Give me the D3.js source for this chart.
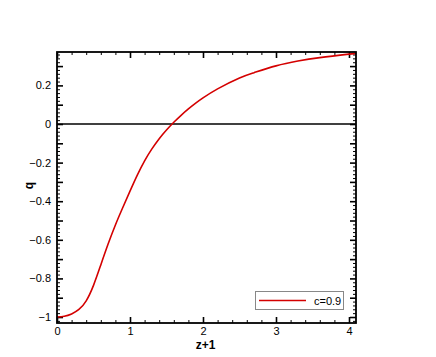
<!DOCTYPE html>
<html>
<head>
<meta charset="utf-8">
<script src="https://cdn.jsdelivr.net/npm/d3@7"></script>
<style>
  html, body { margin: 0; padding: 0; background: #fff; }
  svg { display: block; }
  text { font-family: "Liberation Sans", Arial, Helvetica, sans-serif; }
</style>
</head>
<body>
<svg id="chart" width="436" height="357"></svg>
<script>
// ---- data ----
const zPlus1 = [0, 0.1, 0.2, 0.3, 0.4, 0.5, 0.6, 0.7, 0.8, 0.9, 1.0, 1.1, 1.2, 1.3, 1.4, 1.5, 1.6, 1.7, 1.8, 1.9, 2.0, 2.2, 2.5, 2.7, 3.0, 3.3, 3.6, 4.0, 4.1];
const qValues = [-1.000, -0.996, -0.984, -0.961, -0.916, -0.836, -0.730, -0.622, -0.523, -0.434, -0.348, -0.265, -0.191, -0.129, -0.076, -0.031, 0.009, 0.045, 0.078, 0.108, 0.135, 0.182, 0.238, 0.266, 0.301, 0.326, 0.344, 0.362, 0.366];
const seriesLabel = "c=0.9";
const xTickLabels = [0, 1, 2, 3, 4];
const yTickLabels = [-1, -0.8, -0.6, -0.4, -0.2, 0, 0.2];
const xTitle = "z+1";
const yTitle = "q";

// ---- layout ----
const L = 57, R = 356, T = 52, B = 323;
const svg = d3.select("#chart");
const x = d3.scaleLinear().domain([0, 4.096]).range([L, R]);
const y = d3.scaleLinear().domain([-1.031, 0.373]).range([B, T]);

const xMajor = d3.range(0, 4.001, 1);
const xMinor = d3.range(0, 4.096, 0.2).filter(v => Math.abs(v - Math.round(v)) > 1e-6);
const yMajor = d3.range(-1, 0.3701, 0.1).map(v => +v.toFixed(2));
const yMinor = d3.range(-1.02, 0.373, 0.02).map(v => +v.toFixed(2))
  .filter(v => Math.abs(v * 10 - Math.round(v * 10)) > 1e-6);

function styleAxis(g, w) {
  g.select(".domain").remove();
  g.selectAll(".tick line").attr("stroke", "#000").attr("stroke-width", w);
}
const fmt = d => (d === 0 ? "0" : d3.format("")(d));

// minor ticks (all four sides, inward)
svg.append("g").attr("transform", `translate(0,${B})`)
  .call(d3.axisBottom(x).tickValues(xMinor).tickSize(-3).tickFormat(""))
  .call(g => styleAxis(g, 1));
svg.append("g").attr("transform", `translate(0,${T})`)
  .call(d3.axisTop(x).tickValues(xMinor).tickSize(-3).tickFormat(""))
  .call(g => styleAxis(g, 1));
svg.append("g").attr("transform", `translate(${L},0)`)
  .call(d3.axisLeft(y).tickValues(yMinor).tickSize(-3).tickFormat(""))
  .call(g => styleAxis(g, 1));
svg.append("g").attr("transform", `translate(${R},0)`)
  .call(d3.axisRight(y).tickValues(yMinor).tickSize(-3).tickFormat(""))
  .call(g => styleAxis(g, 1));

// major ticks
svg.append("g").attr("transform", `translate(0,${B})`)
  .call(d3.axisBottom(x).tickValues(xMajor).tickSize(-6).tickFormat(""))
  .call(g => styleAxis(g, 1.6));
svg.append("g").attr("transform", `translate(0,${T})`)
  .call(d3.axisTop(x).tickValues(xMajor).tickSize(-6).tickFormat(""))
  .call(g => styleAxis(g, 1.6));
svg.append("g").attr("transform", `translate(${L},0)`)
  .call(d3.axisLeft(y).tickValues(yMajor).tickSize(-6).tickFormat(""))
  .call(g => styleAxis(g, 1.6));
svg.append("g").attr("transform", `translate(${R},0)`)
  .call(d3.axisRight(y).tickValues(yMajor).tickSize(-6).tickFormat(""))
  .call(g => styleAxis(g, 1.6));

// tick labels
svg.append("g").attr("transform", `translate(0,${B})`)
  .call(d3.axisBottom(x).tickValues(xTickLabels).tickSize(0).tickPadding(4).tickFormat(fmt))
  .call(g => { g.select(".domain").remove(); g.selectAll("line").remove(); })
  .selectAll("text").attr("font-size", 11).attr("fill", "#000")
  .attr("font-family", "Liberation Sans, Arial, sans-serif");
svg.append("g").attr("transform", `translate(${L},0)`)
  .call(d3.axisLeft(y).tickValues(yTickLabels).tickSize(0).tickPadding(6).tickFormat(fmt))
  .call(g => { g.select(".domain").remove(); g.selectAll("line").remove(); })
  .selectAll("text").attr("font-size", 11).attr("fill", "#000")
  .attr("font-family", "Liberation Sans, Arial, sans-serif");

// zero line
svg.append("line")
  .attr("x1", x(0)).attr("x2", x(4.096))
  .attr("y1", y(0)).attr("y2", y(0))
  .attr("stroke", "#000").attr("stroke-width", 1.5);

// curve
const line = d3.line().x((d, i) => x(zPlus1[i])).y(d => y(d)).curve(d3.curveNatural);
svg.append("path").datum(qValues)
  .attr("d", line)
  .attr("fill", "none").attr("stroke", "#d40000").attr("stroke-width", 1.6);

// frame
svg.append("rect").attr("x", L).attr("y", T).attr("width", R - L).attr("height", B - T)
  .attr("fill", "none").attr("stroke", "#000").attr("stroke-width", 1.8);

// axis titles
svg.append("text").attr("x", 205.5).attr("y", 348.5)
  .attr("text-anchor", "middle").attr("font-size", 12).attr("font-weight", "bold")
  .text(xTitle);
svg.append("text")
  .attr("transform", `translate(33,${(T + B) / 2 - 2}) rotate(-90)`)
  .attr("text-anchor", "middle").attr("font-size", 12).attr("font-weight", "bold")
  .text(yTitle);

// legend
const lg = svg.append("g");
lg.append("rect").attr("x", 255.5).attr("y", 291.5).attr("width", 88).attr("height", 18)
  .attr("fill", "#fff").attr("stroke", "#888").attr("stroke-width", 1);
lg.append("line").attr("x1", 259).attr("x2", 306).attr("y1", 300.5).attr("y2", 300.5)
  .attr("stroke", "#d40000").attr("stroke-width", 1.6);
lg.append("text").attr("x", 314).attr("y", 304.5).attr("font-size", 11).text(seriesLabel);
</script>
</body>
</html>
